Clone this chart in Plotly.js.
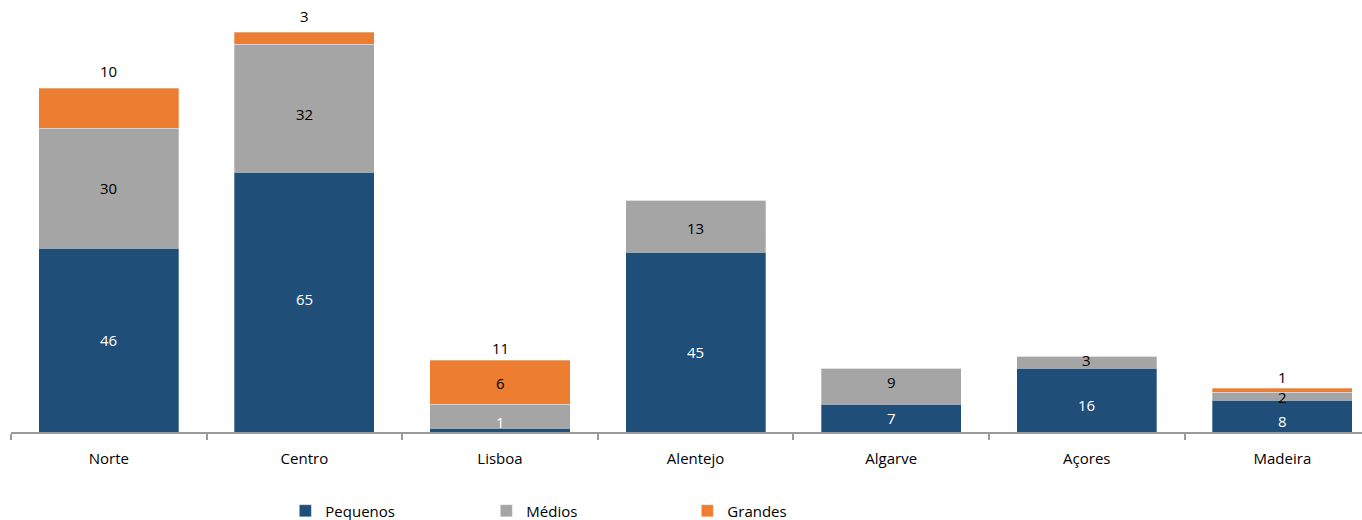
<!DOCTYPE html>
<html>
<head>
<meta charset="utf-8">
<script src="https://cdn.plot.ly/plotly-3.0.1.min.js"></script>
<style>
  html, body { margin: 0; padding: 0; background: #ffffff; }
  #chart { width: 1362px; height: 520px; }
</style>
</head>
<body>
<div id="chart"></div>
<script>
// ---- Data ----
const categories = ["Norte", "Centro", "Lisboa", "Alentejo", "Algarve", "Açores", "Madeira"];
const pequenos = [46, 65, 1, 45, 7, 16, 8];
const medios   = [30, 32, 6, 13, 9, 3, 2];
const grandes  = [10, 3, 11, 0, 0, 0, 1];
const seriesNames = ["Pequenos", "Médios", "Grandes"];

// ---- Styles ----
const colors = ["#1F4E79", "#A5A5A5", "#ED7D31"];
const labelColors = ["#ffffff", "#000000", "#000000"];
// label nudges in pixels (positive = down), as placed in the original
const nudgePequenos = [0, -3, -8, 10, 0, 5, 5];
const nudgeMedios   = [0, 6, -33, 2, -4, -2, 1];
const liftGrandes   = [5, 4, 0, 0, 0, 0, -1];

const FONT = "'Open Sans', 'Noto Sans', sans-serif";
const seriesValues = [pequenos, medios, grandes];

const traces = seriesValues.map((vals, s) => ({
  type: "bar",
  name: seriesNames[s],
  x: categories,
  y: vals,
  marker: { color: colors[s], line: { color: "rgba(255,255,255,0.5)", width: 0.6 } },
  hoverinfo: "x+y+name"
}));

const annotations = [];
categories.forEach((c, i) => {
  let base = 0;
  seriesValues.forEach((vals, s) => {
    const v = vals[i];
    if (v > 0) {
      if (s < 2) {
        const nudge = s === 0 ? nudgePequenos[i] : nudgeMedios[i];
        annotations.push({
          x: c, y: base + v / 2, xref: "x", yref: "y",
          text: String(v), showarrow: false,
          yanchor: "middle", yshift: -nudge,
          font: { family: FONT, size: 15, color: labelColors[s] }
        });
      } else {
        annotations.push({
          x: c, y: base + v, xref: "x", yref: "y",
          text: String(v), showarrow: false,
          yanchor: "bottom", yshift: liftGrandes[i],
          font: { family: FONT, size: 15, color: labelColors[s] }
        });
      }
    }
    base += v;
  });
});

const layout = {
  width: 1362, height: 520,
  margin: { l: 11, r: 0, t: 12, b: 88 },
  paper_bgcolor: "#ffffff", plot_bgcolor: "#ffffff",
  barmode: "stack",
  bargap: 0.284,
  font: { family: FONT, size: 15, color: "#000000" },
  xaxis: {
    type: "category",
    range: [-0.5, 6.407],
    showline: true, linecolor: "#9a9a9a", linewidth: 2,
    ticks: "outside", tickson: "boundaries", ticklen: 6, tickwidth: 2, tickcolor: "#9a9a9a",
    ticklabelstandoff: 12,
    tickfont: { family: FONT, size: 15, color: "#000000" },
    showgrid: false, zeroline: false, fixedrange: true
  },
  yaxis: {
    range: [0, 105],
    visible: false, showgrid: false, zeroline: false, fixedrange: true
  },
  showlegend: true,
  legend: {
    orientation: "h",
    traceorder: "normal",
    xref: "container", yref: "container",
    x: 0.2095, y: 0.0173, xanchor: "left", yanchor: "middle",
    entrywidth: 156, entrywidthmode: "pixels",
    font: { family: FONT, size: 15, color: "#000000" },
    bgcolor: "rgba(0,0,0,0)"
  },
  annotations: annotations
};

Plotly.newPlot("chart", traces, layout, { displayModeBar: false, staticPlot: true });
</script>
</body>
</html>
